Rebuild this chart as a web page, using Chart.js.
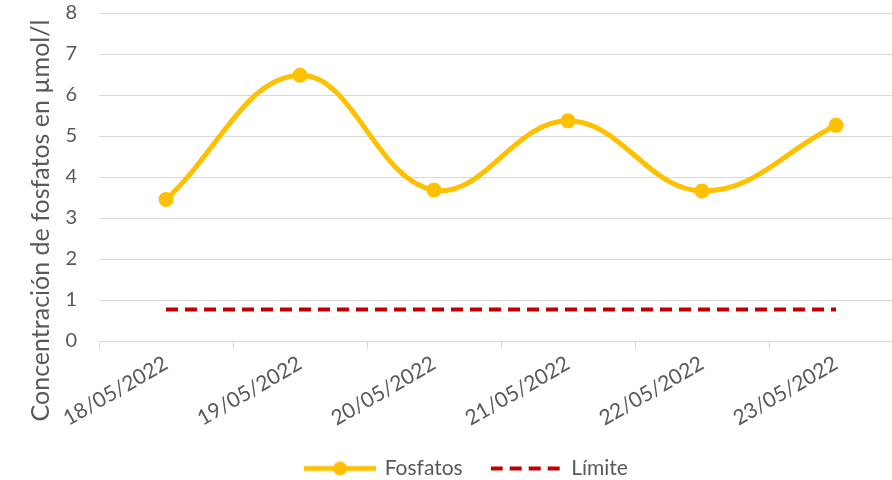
<!DOCTYPE html>
<html>
<head>
<meta charset="utf-8">
<script src="https://cdn.jsdelivr.net/npm/chart.js@4"></script>
<style>
  body { margin: 0; overflow: hidden; background: #fff; }
  #wrap { width: 934px; height: 489px; }
</style>
</head>
<body>
<div id="wrap"><canvas id="fosfatosChart" width="934" height="489"></canvas></div>
<script>
const dates = ['18/05/2022', '19/05/2022', '20/05/2022', '21/05/2022', '22/05/2022', '23/05/2022'];
const fosfatos = [3.45, 6.48, 3.68, 5.37, 3.66, 5.26];
const limite = [0.77, 0.77, 0.77, 0.77, 0.77, 0.77];
const yMin = 0;
const yMax = 8;
const yStep = 1;
const yTitle = 'Concentración de fosfatos en µmol/l';

const textColor = '#595959';
const fontFamily = 'Lato, "Open Sans", sans-serif';

// legend swatches: line + marker, dashed line
function makeSwatch(color, dashed) {
    const c = document.createElement('canvas');
    c.width = 72;
    c.height = 16;
    const ctx = c.getContext('2d');
    ctx.strokeStyle = color;
    ctx.lineWidth = dashed ? 4 : 5;
    if (dashed) ctx.setLineDash([12, 7]);
    ctx.beginPath();
    ctx.moveTo(0, 8);
    ctx.lineTo(72, 8);
    ctx.stroke();
    if (!dashed) {
        ctx.fillStyle = color;
        ctx.beginPath();
        ctx.arc(36, 8, 7, 0, Math.PI * 2);
        ctx.fill();
    }
    return c;
}

const swatches = [makeSwatch('#FFC000', false), makeSwatch('#C00000', true)];

// y title centred over the plot plus the date labels, like the original
const yTitlePlugin = {
    id: 'yTitle',
    afterDraw(chart) {
        const c = chart.ctx;
        const midY = (chart.scales.y.top + chart.scales.x.bottom) / 2;
        c.save();
        c.translate(41, midY);
        c.rotate(-Math.PI / 2);
        c.fillStyle = textColor;
        c.font = '25px ' + fontFamily;
        c.textAlign = 'center';
        c.textBaseline = 'middle';
        c.fillText(yTitle, 0, 0);
        c.restore();
    }
};

const ctx = document.getElementById('fosfatosChart').getContext('2d');
new Chart(ctx, {
    type: 'line',
    data: {
        labels: dates,
        datasets: [
            {
                label: 'Fosfatos',
                data: fosfatos,
                borderColor: '#FFC000',
                backgroundColor: '#FFC000',
                borderWidth: 5,
                pointRadius: 7.5,
                pointBorderWidth: 0,
                tension: 0.4
            },
            {
                label: 'Límite',
                data: limite,
                borderColor: '#C00000',
                backgroundColor: '#C00000',
                borderWidth: 4,
                borderDash: [12, 7],
                pointRadius: 0
            }
        ]
    },
    options: {
        responsive: false,
        animation: false,
        layout: {
            padding: { top: 13, right: 31, left: 31, bottom: 0 }
        },
        scales: {
            x: {
                offset: true,
                grid: {
                    offset: true,
                    drawOnChartArea: false,
                    drawTicks: true,
                    tickLength: 8,
                    color: '#D9D9D9'
                },
                border: { color: '#D9D9D9', width: 1 },
                ticks: {
                    color: textColor,
                    font: { family: fontFamily, size: 21 },
                    minRotation: 30,
                    maxRotation: 30,
                    padding: 2
                },
                afterFit: function(scale) {
                    scale.height = 87;
                }
            },
            y: {
                min: yMin,
                max: yMax,
                ticks: {
                    stepSize: yStep,
                    color: textColor,
                    font: { family: fontFamily, size: 20 },
                    padding: 0
                },
                grid: {
                    color: '#D9D9D9',
                    drawTicks: true,
                    tickLength: 22,
                    tickColor: 'rgba(0,0,0,0)'
                },
                border: { display: false },
                afterFit: function(scale) {
                    scale.width = 68;
                }
            }
        },
        plugins: {
            legend: {
                position: 'bottom',
                labels: {
                    usePointStyle: true,
                    pointStyleWidth: 68,
                    padding: 30,
                    color: textColor,
                    font: { family: fontFamily, size: 21 },
                    generateLabels: function(chart) {
                        return chart.data.datasets.map((ds, i) => ({
                            text: ds.label,
                            pointStyle: swatches[i],
                            fontColor: textColor,
                            datasetIndex: i,
                            hidden: false,
                            lineWidth: 0
                        }));
                    }
                }
            },
            tooltip: { enabled: false }
        }
    },
    plugins: [yTitlePlugin]
});
</script>
</body>
</html>
